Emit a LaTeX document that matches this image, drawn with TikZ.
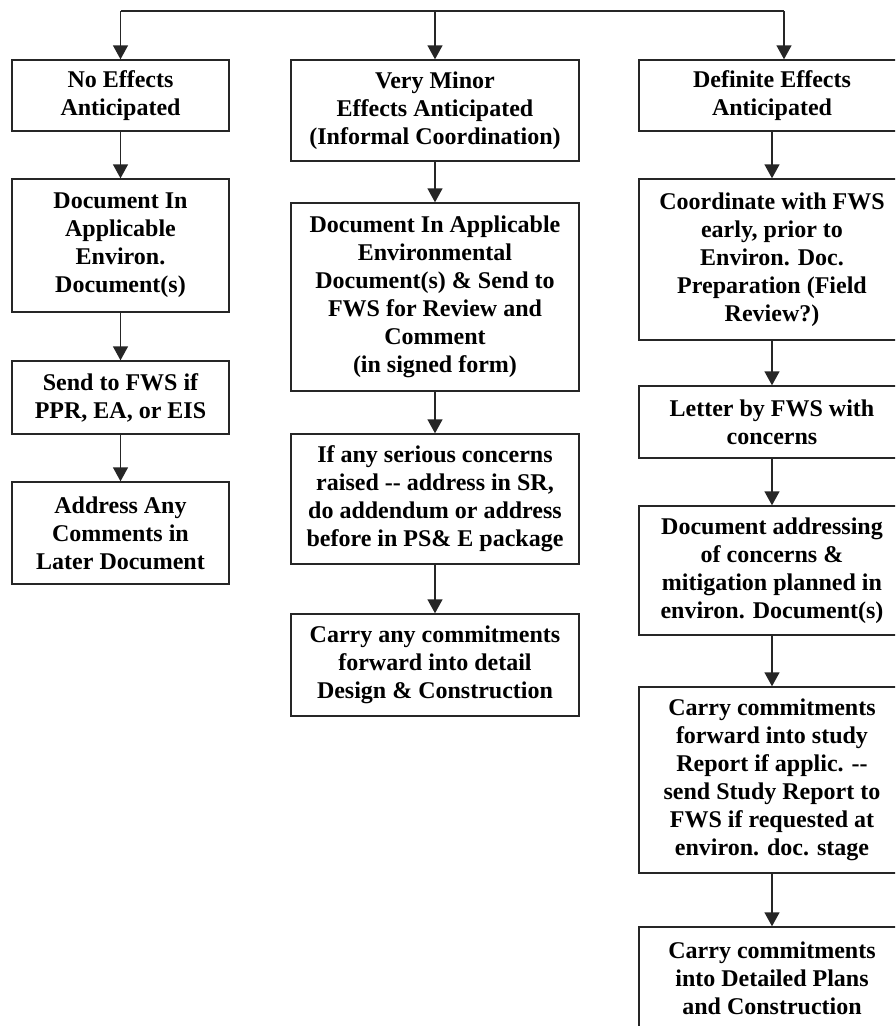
\documentclass[tikz,border=0pt]{standalone}
\usepackage{fontspec}
\setmainfont{Liberation Serif}
\usetikzlibrary{arrows.meta}
\begin{document}
\begin{tikzpicture}[x=1pt,y=-1pt,
  box/.style={draw=black!85,line width=1.4pt,inner sep=0pt,align=center,
    font=\fontsize{24}{28}\selectfont\bfseries},
  lbox/.style={box,minimum width=217pt},
  mbox/.style={box,minimum width=288pt},
  rbox/.style={box,minimum width=266pt},
  arr/.style={draw=black!85,line width=1.4pt,-{Triangle[length=14pt,width=15pt]}},
  ln/.style={draw=black!85,line width=1.4pt}]
\clip (0,0) rectangle (895,1026);
\fill[white] (0,0) rectangle (895,1026);
% left column
\node[lbox,minimum height=71pt] (L1) at (120.5,95.5) {No Effects\\Anticipated};
\node[lbox,minimum height=133pt] (L2) at (120.5,245.5) {Document In\\Applicable\\Environ.\\Document(s)};
\node[lbox,minimum height=73pt] (L3) at (120.5,397.5) {Send to FWS if\\PPR, EA, or EIS};
\node[lbox,minimum height=102pt] (L4) at (120.5,533) {Address Any\\Comments in\\Later Document};
% middle column
\node[mbox,minimum height=101pt] (M1) at (435,110.5) {Very Minor\\Effects Anticipated\\(Informal Coordination)};
\node[mbox,minimum height=188pt] (M2) at (435,297) {Document In Applicable\\Environmental\\Document(s) \& Send to\\FWS for Review and\\Comment\\(in signed form)};
\node[mbox,minimum height=130pt] (M3) at (435,499) {If any serious concerns\\raised -{}- address in SR,\\do addendum or address\\before in PS\& E package};
\node[mbox,minimum height=102pt] (M4) at (435,665) {Carry any commitments\\forward into detail\\Design \& Construction};
% right column
\node[rbox,minimum height=71pt] (R1) at (772,95.5) {Definite Effects\\Anticipated};
\node[rbox,minimum height=161pt] (R2) at (772,259.5) {Coordinate with FWS\\early, prior to\\Environ. Doc.\\Preparation (Field\\Review?)};
\node[rbox,minimum height=72pt] (R3) at (772,422) {Letter by FWS with\\concerns};
\node[rbox,minimum height=129pt] (R4) at (772,570.5) {Document addressing\\of concerns \&\\mitigation planned in\\environ. Document(s)};
\node[rbox,minimum height=186pt] (R5) at (772,780) {Carry commitments\\forward into study\\Report if applic. -{}-\\send Study Report to\\FWS if requested at\\environ. doc. stage};
\node[rbox,minimum height=102pt] (R6) at (772,978) {Carry commitments\\into Detailed Plans\\and Construction};
% top distribution
\coordinate (t1) at (120.5,11);
\coordinate (t2) at (435,11);
\coordinate (t3) at (784,11);
\draw[ln] (t1) -- (t3);
\draw[arr] (t1) -- (L1.north);
\draw[arr] (t2) -- (M1.north);
\draw[arr] (t3) -- (t3 |- R1.north);
% column arrows
\draw[arr] (L1) -- (L2);
\draw[arr] (L2) -- (L3);
\draw[arr] (L3) -- (L4);
\draw[arr] (M1) -- (M2);
\draw[arr] (M2) -- (M3);
\draw[arr] (M3) -- (M4);
\draw[arr] (R1) -- (R2);
\draw[arr] (R2) -- (R3);
\draw[arr] (R3) -- (R4);
\draw[arr] (R4) -- (R5);
\draw[arr] (R5) -- (R6);
\end{tikzpicture}
\end{document}
